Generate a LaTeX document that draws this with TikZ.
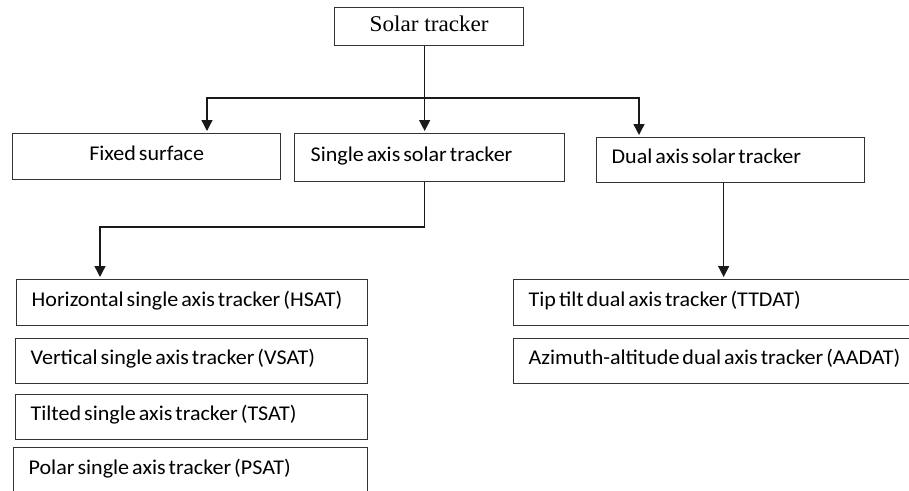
\documentclass[tikz,border=0pt]{standalone}
\usepackage{fontspec}
\setmainfont{Carlito}[WordSpace=0.6,FakeStretch=1.05]
\newfontfamily\titlefont{Liberation Serif}[FakeStretch=1.03]
\usetikzlibrary{arrows.meta,calc}
\newcommand{\lefttext}[2]{\makebox[#1pt][l]{#2}}
\begin{document}
\begin{tikzpicture}[x=1pt,y=-1pt,
  box/.style={draw=black!80,line width=1.3pt,rectangle,anchor=north west,inner ysep=0pt,inner xsep=0pt,
    font=\fontsize{21}{24}\selectfont,text height=15pt,text depth=8pt},
  lbox/.style={box,inner xsep=15pt},
  ln/.style={draw=black!90,line width=1.4pt},
  arr/.style={ln,-{Triangle[length=11pt,width=11pt]},shorten >=2pt},
  arrs/.style={ln,{Triangle[length=11pt,width=11pt]}-{Triangle[length=11pt,width=11pt]},shorten >=2pt,shorten <=2pt}]
\useasboundingbox (0,0) rectangle (909,490);
\fill[white] (0,0) rectangle (909,490);
\clip (0,0) rectangle (909,490);

\node[box,minimum width=189,minimum height=38,text height=16pt,text depth=7pt,font=\titlefont\fontsize{22.5}{26}\selectfont] (root) at (334,7) {Solar tracker};

\node[box,minimum width=268,minimum height=46] (fixed) at (12,133) {Fixed surface};
\node[lbox,inner xsep=16pt,minimum height=48] (single) at (294,133) {\lefttext{238}{Single axis solar tracker}};
\node[lbox,minimum height=45] (dual) at (596,137) {\lefttext{238}{Dual axis solar tracker}};

\node[lbox,minimum height=46] (hsat) at (16,279) {\lefttext{321}{Horizontal single axis tracker (HSAT)}};
\node[lbox,minimum height=45] (vsat) at (15,338) {\lefttext{322}{Vertical single axis tracker (VSAT)}};
\node[lbox,minimum height=45] (tsat) at (15,394) {\lefttext{322}{Tilted single axis tracker (TSAT)}};
\node[lbox,minimum height=46] (psat) at (13,447) {\lefttext{324}{Polar single axis tracker (PSAT)}};

\node[lbox,minimum height=46] (ttdat) at (513,279) {\lefttext{382}{Tip tilt dual axis tracker (TTDAT)}};
\node[lbox,minimum height=45] (aadat) at (513,338) {\lefttext{382}{Azimuth-altitude dual axis tracker (AADAT)}};

\coordinate (hl) at (207,98);
\coordinate (hr) at (639,98);
\coordinate (sj) at (100,227);

\draw[arr] ([xshift=-4.5pt]root.south) -- ([xshift=-4.5pt]root.south |- single.north);
\draw[arrs] (hl |- fixed.north) -- (hl) -- (hr) -- (hr |- dual.north);
\draw[arr] ([xshift=-5pt]single.south) |- (sj) -- (sj |- hsat.north);
\draw[arr] ([xshift=-7pt]dual.south) -- ([xshift=-7pt]dual.south |- ttdat.north);
\end{tikzpicture}
\end{document}
